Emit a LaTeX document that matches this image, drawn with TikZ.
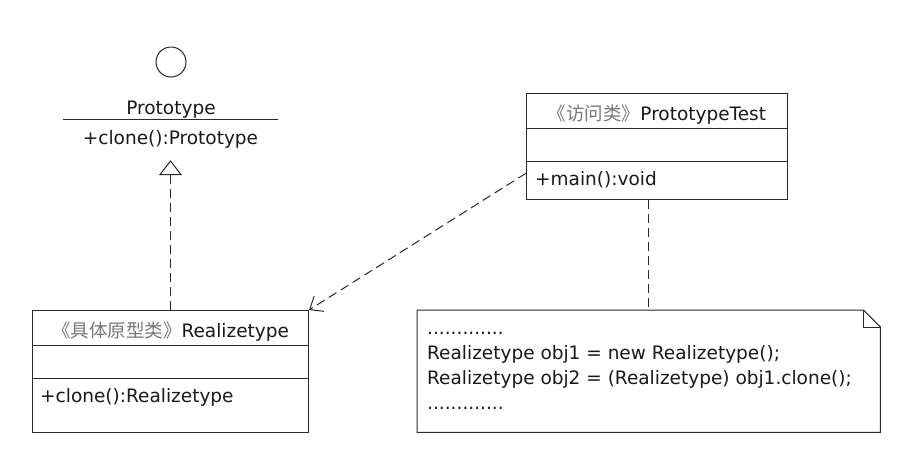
\documentclass[tikz,border=0pt]{standalone}
\usepackage{fontspec}
\setmainfont{DejaVu Sans}
\newfontfamily\cjk{Noto Sans CJK SC}
\definecolor{linecol}{RGB}{40,40,40}
\definecolor{textcol}{RGB}{25,25,25}
\definecolor{stereocol}{RGB}{120,120,120}
\usetikzlibrary{arrows.meta,calc}

\begin{document}
\begin{tikzpicture}[x=1pt,y=-1pt,
    umlbox/.style={draw=linecol,line width=1pt,fill=white,inner sep=0pt},
    txt/.style={font=\fontsize{18.5}{24.7}\selectfont,text=textcol,inner sep=0pt},
    sep/.style={draw=linecol,line width=1pt},
    depline/.style={draw=linecol,line width=1pt,dash pattern=on 9pt off 5pt}]
  \fill[white] (0,0) rectangle (913,464);
  \useasboundingbox (0,0) rectangle (913,464);

  % interface Prototype
  \node[draw=linecol,line width=1pt,circle,minimum size=30pt,inner sep=0pt] (ifcircle) at (171,62) {};
  \node[txt,anchor=base] (protoname) at (171,114) {Prototype};
  \node[txt,anchor=base,text height=13pt,text depth=4pt,inner ysep=11.5pt,minimum width=215pt] (protoop) at (170.5,144.5) {+clone():Prototype};
  \draw[sep] (protoop.north west) -- (protoop.north east);

  % class Realizetype
  \node[umlbox,minimum width=276pt,minimum height=122pt,anchor=north west] (real) at (32,310) {};
  \draw[sep] ($(real.north west)+(0,35)$) -- ($(real.north east)+(0,35)$);
  \draw[sep] ($(real.north west)+(0,68)$) -- ($(real.north east)+(0,68)$);
  \node[txt,anchor=base] (realname) at ($(real.north)+(0,27)$) {{\cjk\color{stereocol}《具体原型类》}Realizetype};
  \node[txt,anchor=base west] (realop) at ($(real.north west)+(8,92)$) {+clone():Realizetype};

  % class PrototypeTest
  \node[umlbox,minimum width=261pt,minimum height=106pt,anchor=north west] (test) at (526,93) {};
  \draw[sep] ($(test.north west)+(0,35)$) -- ($(test.north east)+(0,35)$);
  \draw[sep] ($(test.north west)+(0,68)$) -- ($(test.north east)+(0,68)$);
  \node[txt,anchor=base] (testname) at ($(test.north)+(0,27)$) {{\cjk\color{stereocol}《访问类》}PrototypeTest};
  \node[txt,anchor=base west] (testop) at ($(test.north west)+(9,92)$) {+main():void};

  % note
  \node[inner sep=0pt,minimum width=463pt,minimum height=122pt,anchor=north west] (note) at (417,310) {};
  \draw[sep,fill=white] (note.north west) -- ($(note.north east)+(-17,0)$) -- ($(note.north east)+(0,17)$)
    -- (note.south east) -- (note.south west) -- cycle;
  \draw[sep] ($(note.north east)+(-17,0)$) |- ($(note.north east)+(0,17)$);
  \node[txt,anchor=base west,align=left] (notetext) at (427,409) {.............\\Realizetype obj1 = new Realizetype();\\Realizetype obj2 = (Realizetype) obj1.clone();\\.............};

  % connectors
  \draw[depline,-{Triangle[open,length=15pt,width=23pt]}] (real.north) -- (real.north |- protoop.south);
  \draw[depline,-{Straight Barb[length=11pt,width=18pt]}] ($(test.south west)!0.25!(test.north west)$) -- (real.north east);
  \draw[depline] (note.north |- test.south) -- (note.north);
\end{tikzpicture}
\end{document}
